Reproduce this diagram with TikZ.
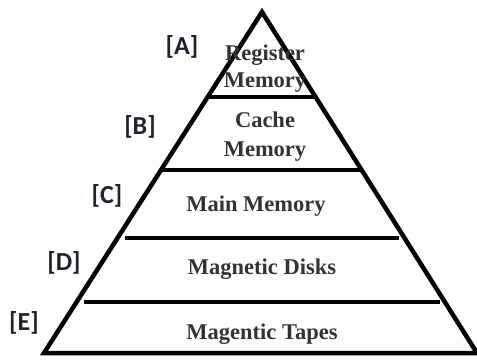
\documentclass[tikz,border=0pt]{standalone}
\usepackage{fontspec}
\setmainfont{Liberation Serif}
\newfontfamily\lblfont{Carlito}
\definecolor{txtc}{HTML}{333333}
\definecolor{lblc}{HTML}{22222E}
\begin{document}
\begin{tikzpicture}[x=1pt,y=-1pt,
  level/.style={font=\bfseries\fontsize{22.5}{24}\selectfont, text=txtc, align=center, inner sep=0pt},
  tag/.style={font=\lblfont\bfseries\fontsize{26}{28}\selectfont, text=lblc, inner sep=0pt},
  edge/.style={line width=4.5pt, line join=miter}]
\useasboundingbox (0,0) rectangle (477,361);
% pyramid outline
\coordinate (apex) at (262,12);
\coordinate (bl) at (44,353);
\coordinate (br) at (477,353);
\draw[edge] (bl) -- (apex) -- (br) -- cycle;
% separator lines
\draw[edge] (208,97) -- (316,97);
\draw[edge] (162,170) -- (362,170);
\draw[edge] (125,238) -- (399,238);
\draw[edge] (84,302) -- (440,302);
% texts
\node[level] (reg) at (265,69) {Register\\[3pt]Memory};
\node[level] (cache) at (265,137) {Cache\\[5pt]Memory};
\node[level] (main) at (256,206) {Main Memory};
\node[level] (disk) at (262,269) {Magnetic Disks};
\node[level] (tape) at (262,334) {Magentic Tapes};
% tags
\node[tag] (A) at (182,47) {[A]};
\node[tag] (B) at (140,127) {[B]};
\node[tag] (C) at (107,196) {[C]};
\node[tag] (D) at (64,263) {[D]};
\node[tag] (E) at (24,323) {[E]};
\end{tikzpicture}
\end{document}
